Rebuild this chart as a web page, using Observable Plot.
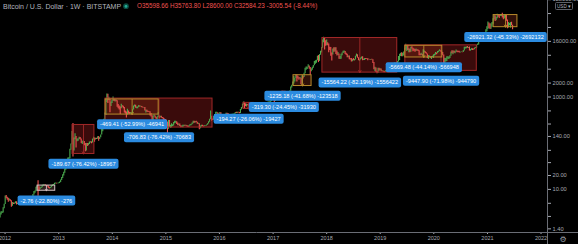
<!DOCTYPE html>
<html><head><meta charset="utf-8">
<script src="https://cdn.jsdelivr.net/npm/d3@7"></script>
<script src="https://cdn.jsdelivr.net/npm/@observablehq/plot@0.6"></script>
<style>
html,body{margin:0;padding:0;background:#000;}
#chart{position:relative;width:578px;height:244px;overflow:hidden;background:#000;}
</style></head><body><div id="chart"></div><script>
// ---------- DATA (weekly candles: [close, high, low]) ----------
const firstOpen = 2.6;
const firstMondays = ["2011-11-28","2012-01-02","2013-01-07","2014-01-06","2015-01-05","2016-01-04","2017-01-02","2018-01-01","2019-01-07","2020-01-06","2021-01-04"];
const w2011 = [[2.9,3.1,2.4],[3.1,3.3,2.8],[3.2,3.3,3.0],[3.9,4.0,3.1],[4.7,4.8,3.8]];
const w2012 = [[6.8,7.2,4.9],[6.6,7.4,6.3],[6.3,6.8,5.8],[5.6,6.4,5.3],[5.9,6.2,5.6],[5.7,6.0,5.4],[4.5,5.7,4.1],[5.0,5.2,4.3],[4.9,5.1,4.7],[5.0,5.1,4.8],[5.3,5.4,4.9],[4.7,5.4,4.6],[4.9,5.0,4.7],[4.9,5.0,4.8],[4.9,5.0,4.8],[5.1,5.2,4.9],[5.1,5.2,5.0],[5.0,5.2,4.9],[5.0,5.1,4.9],[5.1,5.2,5.0],[5.1,5.2,5.0],[5.2,5.3,5.1],[5.5,5.6,5.2],[5.9,6.0,5.5],[6.4,6.6,5.9],[6.7,6.8,6.3],[6.8,7.0,6.5],[7.6,7.8,6.8],[8.7,9.0,7.6],[8.9,9.2,8.3],[10.9,11.1,8.9],[11.5,11.8,10.6],[11.4,15.4,7.1],[10.2,10.9,9.2],[10.5,10.9,10.0],[11.0,11.2,10.4],[11.8,12.0,10.9],[12.3,12.6,11.7],[12.4,12.5,12.0],[12.0,12.6,11.9],[11.9,12.1,11.6],[11.7,12.0,11.3],[10.9,11.8,10.5],[10.6,11.0,10.2],[10.9,11.0,10.5],[11.6,11.8,10.8],[12.3,12.4,11.5],[12.5,12.8,12.1],[13.4,13.6,12.5],[13.5,13.7,13.1],[13.3,13.6,13.1],[13.4,13.6,13.2],[13.5,13.7,13.2]];
const w2013 = [[14.2,14.5,13.4],[15.7,16,14.1],[17.5,18,15.6],[20.4,20.8,17.3],[22.6,23.5,19.5],[26.9,27.5,22.4],[29.9,31,26],[34,34.5,29],[46.9,48,34],[47,48.4,36],[71.5,74,46],[93,95.7,70],[165,180,93],[93,266,50],[119,130,68],[128,160,119],[112,139,79],[115,123,107],[123,124,110],[130,134,121],[123,133,117],[101,123,99],[102,110,94],[108,112,99],[98,109,88],[76,98,65],[95,98,68],[89,99,85],[96,98,88],[104,106,94],[104,108,101],[102,107,97],[120,123,101],[128,135,117],[118,130,105],[126,128,118],[123,128,121],[133,138,122],[125,140,110],[132,133,120],[150,150,132],[180,210,150],[211,212,178],[318,330,210],[440,450,310],[760,900,400],[1100,1163,780],[860,1150,720],[880,990,840],[630,890,455],[730,780,620],[830,840,720]];
const w2014 = [[880,1000,810],[820,890,800],[850,870,780],[810,860,790],[650,830,600],[630,690,560],[580,640,520],[565,610,420],[640,700,560],[625,650,600],[570,630,560],[470,590,450],[450,500,430],[430,475,350],[490,540,410],[440,500,425],[435,465,420],[440,455,425],[445,450,430],[525,530,440],[630,635,520],[650,670,610],[595,660,570],[595,610,560],[600,605,560],[630,655,590],[620,635,610],[620,630,610],[595,625,585],[585,600,575],[585,595,575],[510,590,495],[510,525,450],[480,515,470],[478,490,460],[475,485,465],[405,480,390],[375,440,370],[325,395,275],[380,390,290],[390,410,370],[350,390,345],[325,360,320],[370,375,320],[375,460,360],[365,390,340],[375,385,355],[350,385,345],[345,360,340],[330,350,305],[320,335,310],[315,325,310]];
const w2015 = [[270,300,260],[210,285,152],[255,310,200],[225,310,220],[225,245,210],[235,265,215],[245,250,230],[275,280,235],[280,300,265],[285,298,270],[260,290,255],[250,275,240],[255,260,240],[235,260,230],[222,240,215],[230,237,218],[240,245,215],[240,245,230],[235,245,232],[240,245,233],[230,242,225],[225,232,220],[240,242,222],[248,255,235],[250,257,240],[270,275,250],[295,300,265],[275,300,270],[290,295,275],[282,298,278],[262,285,258],[262,270,255],[230,265,195],[230,235,205],[240,245,225],[232,245,228],[230,235,225],[235,238,228],[240,242,235],[245,248,235],[262,264,245],[285,290,260],[325,330,285],[385,500,320],[330,340,300],[325,335,310],[375,380,315],[390,420,350],[435,470,385],[440,465,430],[425,455,410],[430,435,415]];
const w2016 = [[450,462,425],[385,455,360],[400,420,375],[375,400,365],[375,395,365],[400,405,370],[440,445,400],[435,445,405],[410,440,405],[415,420,405],[410,420,405],[415,420,405],[420,425,410],[420,425,415],[430,432,418],[460,462,428],[445,468,440],[460,465,440],[455,465,450],[445,460,435],[530,535,440],[580,590,525],[680,700,570],[760,780,670],[670,770,550],[650,710,620],[665,700,605],[660,680,645],[655,672,640],[625,660,600],[590,630,480],[570,600,565],[580,585,565],[575,585,570],[605,612,570],[610,630,600],[605,612,600],[600,610,590],[612,615,598],[640,645,608],[640,645,630],[655,660,630],[700,720,650],[710,740,680],[700,740,690],[735,755,695],[735,750,725],[765,775,730],[770,775,755],[790,795,765],[890,900,785],[1000,1000,880]];
const w2017 = [[900,1150,880],[820,910,750],[920,930,800],[915,930,880],[1020,1030,915],[995,1075,940],[1050,1060,990],[1150,1200,1050],[1265,1290,1150],[1230,1325,1000],[960,1260,950],[965,1050,890],[1080,1090,950],[1180,1200,1070],[1180,1210,1150],[1235,1245,1180],[1340,1350,1235],[1600,1650,1340],[1760,1800,1570],[2050,2100,1750],[2150,2790,1900],[2500,2550,2100],[2960,3000,2500],[2600,2980,2100],[2550,2800,2450],[2500,2600,2300],[2510,2650,2450],[1930,2550,1840],[2750,2900,1900],[2720,2800,2450],[3250,3280,2650],[4050,4200,3200],[4100,4480,3800],[4350,4400,3950],[4600,4980,4300],[4200,4700,4000],[3700,4350,2970],[3780,4100,3500],[4370,4400,3850],[4770,4800,4200],[5700,5850,4750],[6000,6100,5100],[6150,6250,5400],[7400,7600,6100],[5950,7900,5550],[8050,8300,5900],[9700,9800,8000],[11500,11800,9000],[15300,17200,11400],[19000,19666,15000],[13900,19300,10400],[13400,16500,12500]];
const w2018 = [[13700,17200,12800],[13600,15000,12900],[11500,14000,9100],[11200,11900,10100],[8200,11800,7600],[8100,9000,6000],[10300,11000,8100],[9600,11700,9300],[11400,11600,9400],[9600,11700,8300],[8200,9900,7700],[8400,9200,7900],[6900,8500,6600],[6900,7500,6500],[8300,8400,6600],[8900,9000,7800],[9350,9750,8700],[9650,9950,9000],[8700,9650,8300],[8250,8900,7950],[7350,8400,7100],[7650,7750,7050],[6500,7750,6400],[6450,6700,6300],[6100,6800,5750],[6380,6450,5800],[6300,6800,6100],[6350,6450,6050],[7400,7600,6300],[8200,8500,7400],[7050,8200,6900],[6300,7100,6100],[6500,6600,5900],[6700,6950,6300],[7250,7300,6650],[6200,7400,6100],[6500,6600,6200],[6700,6800,6150],[6600,6800,6450],[6550,6700,6500],[6400,6700,6100],[6450,6600,6400],[6400,6500,6350],[6400,6450,6250],[6350,6600,6300],[5600,6400,5300],[4000,5600,3900],[4150,4400,3500],[3600,4250,3400],[3250,3600,3200],[3950,4200,3250],[3800,4200,3600],[4000,4100,3700]];
const w2019 = [[3550,4050,3500],[3550,3700,3500],[3520,3650,3450],[3450,3550,3350],[3650,3700,3380],[3650,3700,3550],[3850,4200,3650],[3800,3900,3700],[3900,3950,3700],[3950,4000,3800],[3970,4050,3900],[4100,4150,3900],[5050,5300,4100],[5050,5450,4950],[5300,5400,5000],[5250,5650,5050],[5800,5900,5200],[7000,7500,5700],[8000,8400,6200],[8700,8900,7500],[7650,9100,7450],[8700,8800,7450],[9300,9400,7750],[10800,11300,9000],[11000,13880,10300],[11500,12800,9700],[10300,13200,10100],[10800,11100,9100],[9450,10700,9100],[11800,12000,9300],[11300,12300,11000],[10200,11400,9500],[10150,10900,9800],[9600,10700,9300],[10450,10900,9700],[10300,10500,9900],[10000,10350,9600],[8050,10000,7800],[7900,8500,7800],[8300,8850,7800],[8200,8400,7900],[9200,10500,7350],[9200,9950,9050],[8800,9500,8700],[8500,9100,8400],[7100,8500,6800],[7400,7900,6500],[7450,7750,7200],[7050,7450,6900],[7350,7500,6450],[7350,7650,7100],[7750,8200,6850]];
const w2020 = [[8150,8450,7700],[8900,9200,8050],[8600,8950,8250],[9350,9600,8600],[9900,9950,9150],[9900,10500,9600],[9700,10200,9300],[8550,9950,8400],[8000,9200,7850],[5350,8150,3850],[5800,6900,4450],[5900,6850,5700],[6900,7450,5850],[6900,7450,6600],[7100,7300,6500],[7700,7800,6800],[8850,9450,7650],[8700,10000,8600],[9700,9950,8200],[8900,9900,8800],[9450,9700,8650],[9650,10400,9300],[9350,9950,9100],[9300,9800,9200],[9150,9750,8950],[9250,9350,8950],[9300,9450,9150],[9200,9300,9050],[9900,10100,9150],[11250,12000,9900],[11800,11900,11000],[11800,12050,11100],[11650,12450,11300],[11700,11800,11150],[10250,12050,9900],[10300,10600,9850],[11050,11150,10250],[10750,10800,10150],[10650,10950,10350],[11350,11500,10550],[11500,11750,11200],[13100,13200,11400],[13750,14000,12950],[15500,15950,13300],[15950,16500,15150],[18400,18800,15800],[18200,19400,16300],[19100,19900,17600],[19100,19400,17650],[23800,24200,19000],[26300,28400,22400],[32800,33300,26000]];
const w2021 = [[38200,42000,29000],[36000,40100,30300],[32300,37800,28900],[34300,38500,29300],[39200,40900,32300],[47100,49700,37400],[57500,58300,46500],[46200,57500,43000],[51200,52600,44900],[59000,61800,49300],[57500,60900,53300],[55900,58500,50300],[57700,60000,55000],[59800,61200,55500],[56100,64800,51500],[49000,57400,47000],[56600,58400,48800],[58200,59500,52900],[46500,59600,43800],[34800,46600,30000],[35700,40900,31200],[35800,39300,34800],[39100,40800,31000],[35589.77,41300,34800],[32584.23,35763.80,28600.00]];
const weekly = [w2011,w2012,w2013,w2014,w2015,w2016,w2017,w2018,w2019,w2020,w2021];

// header values of the last weekly candle
const lastOpen = 35598.66, lastHigh = 35763.80, lastLow = 28600.00, lastClose = 32584.23;
const lastChange = -3005.54, lastChangePct = -8.44;

// drawdown price-range drawings
const ddStart  = ["2012-08-10","2013-04-05","2013-11-16","2013-11-16","2016-06-13","2017-03-03","2017-05-20","2017-12-03","2019-06-21","2019-06-21","2021-02-12"];
const ddEnd    = ["2012-12-08","2013-09-01","2015-11-15","2014-11-13","2016-08-22","2017-03-27","2017-09-20","2019-04-27","2020-02-28","2020-10-20","2021-07-24"];
const ddTop    = [12.1, 248.2, 924.9, 885.8, 745.5, 1306, 2963.5, 18937, 12844, 13126, 59389];
const ddBottom = [9.35, 58.5, 218.1, 416.4, 551.2, 986.6, 1728.3, 3372.8, 7174.5, 3678, 32468];
const ddTone   = ["white","red","red","yellow","red","red","yellow","red","yellow","red","yellow"];
const ddLabel  = ["-2.76 (-22.80%) -276","-189.67 (-76.42%) -18967","-706.83 (-76.42%) -70683","-469.41 (-52.99%) -46941","-194.27 (-26.06%) -19427","-319.30 (-24.45%) -31930","-1235.18 (-41.68%) -123518","-15564.22 (-82.19%) -1556422","-5669.48 (-44.14%) -566948","-9447.90 (-71.98%) -944790","-26921.32 (-45.33%) -2692132"];

// axes
const yTicks = [1.4,2.6,5,10,20,38,70,140,260,500,1000,2000,4000,8000,16000,32000,64000,128000];
const yTickLabels = ["1.40","2.60","5.00","10.00","20.00","38.00","70.00","140.00","260.00","500.00","1000.00","2000.00","4000.00","8000.00","16000.00","32000.00","64000.00","128000.00"];
const xTickYears = ["2012","2013","2014","2015","2016","2017","2018","2019","2020","2021","2022"];

// ---------- BUILD ----------
const FONT = "'Liberation Sans', Arial, sans-serif";
const GREEN = "#4caf50", RED = "#ef5350";
const parse = d3.utcParse("%Y-%m-%d");
const candles = [];
let prev = firstOpen;
weekly.forEach((arr, yi) => {
  const t0 = parse(firstMondays[yi]);
  arr.forEach(([c, h, l], i) => {
    const o = prev;
    candles.push({date: d3.utcDay.offset(t0, 7 * i), open: o, close: c, high: Math.max(h, o, c), low: Math.min(l, o, c)});
    prev = c;
  });
});
const up = candles.filter(d => d.close >= d.open);
const down = candles.filter(d => d.close < d.open);

const dd = ddStart.map((s, i) => {
  const start = parse(s), end = parse(ddEnd[i]);
  return {start, end, mid: new Date((+start + +end) / 2), top: ddTop[i], bottom: ddBottom[i], tone: ddTone[i], label: ddLabel[i]};
});
const toneFill = {red: "#8b1a1a", yellow: "#7e2a16", white: "#a06868"};
const toneOpacity = {red: 0.42, yellow: 0.38, white: 0.3};
const toneStroke = {red: "#a22828", yellow: "#b88a2c", white: "#d2c0c0"};
const tones = ["red", "yellow", "white"];

const yLabelMap = new Map(yTicks.map((v, i) => [v, yTickLabels[i]]));
const xTickDates = xTickYears.map(y => parse(y + "-01-01"));

const marks = [];
for (const t of tones) {
  marks.push(Plot.rect(dd.filter(d => d.tone === t), {x1: "start", x2: "end", y1: "bottom", y2: "top", fill: toneFill[t], fillOpacity: toneOpacity[t]}));
}
marks.push(Plot.ruleX(up, {x: "date", y1: "low", y2: "high", stroke: GREEN, strokeWidth: 1.1, clip: true}));
marks.push(Plot.ruleX(down, {x: "date", y1: "low", y2: "high", stroke: RED, strokeWidth: 1.1, clip: true}));
for (const t of tones) {
  const sub = dd.filter(d => d.tone === t);
  marks.push(Plot.rect(sub, {x1: "start", x2: "end", y1: "bottom", y2: "top", fill: "none", stroke: toneStroke[t], strokeWidth: 1}));
  marks.push(Plot.arrow(sub, {x1: "mid", x2: "mid", y1: "top", y2: "bottom", stroke: toneStroke[t], strokeWidth: 0.9, headLength: 4}));
}
marks.push(Plot.axisY({anchor: "right", ticks: yTicks, tickFormat: d => yLabelMap.get(d), tickSize: 3, tickPadding: 2, fontSize: 5.7}));
marks.push(Plot.axisX({anchor: "bottom", ticks: xTickDates, tickFormat: d3.utcFormat("%Y"), tickSize: 2, tickPadding: 1.5, fontSize: 5.5}));
marks.push(Plot.text(dd, {x: "mid", y: "bottom", dy: 10, text: "label", fill: "#ffffff", fontSize: 5.6}));

const chart = Plot.plot({
  width: 578, height: 244,
  marginLeft: 0, marginRight: 31, marginTop: 0, marginBottom: 12,
  x: {type: "utc", domain: [parse("2011-12-01"), parse("2022-02-14")], range: [0, 547]},
  y: {type: "log", domain: [1.167, 122700], range: [232, 0]},
  style: {background: "#000", color: "#a6a9b2", fontFamily: FONT, fontSize: "5.7px"},
  marks
});
document.getElementById("chart").appendChild(chart);

// label backgrounds
const svg = d3.select(chart);
svg.selectAll('g[aria-label="text"] text').each(function () {
  const bb = this.getBBox();
  const h = 10, padX = 3;
  d3.select(this.parentNode).insert("rect", () => this)
    .attr("transform", this.getAttribute("transform"))
    .attr("x", bb.x - padX).attr("y", bb.y + bb.height / 2 - h / 2)
    .attr("width", bb.width + 2 * padX).attr("height", h)
    .attr("rx", 2).attr("fill", "#2b8be0");
});

// axis lines (price scale border and time scale border)
const sx = chart.scale("x"), sy = chart.scale("y");
const xr = sx.range[1], yb = sy.range[0];
svg.append("line").attr("x1", xr + 0.5).attr("x2", xr + 0.5).attr("y1", 0).attr("y2", 244).attr("stroke", "#6a6d75");
svg.append("line").attr("x1", 0).attr("x2", 578).attr("y1", yb + 0.5).attr("y2", yb + 0.5).attr("stroke", "#6a6d75");

// header
const hdr = svg.append("g").attr("font-family", FONT).attr("text-anchor", "start");
hdr.append("text").attr("x", 3).attr("y", 8.5).attr("font-size", 7).attr("fill", "#b2b5be").text("Bitcoin / U.S. Dollar · 1W · BITSTAMP");
hdr.append("circle").attr("cx", 126).attr("cy", 6.2).attr("r", 2.2).attr("fill", "#22ab94").attr("stroke", "#0d4a40").attr("stroke-width", 1.4);
const f2 = v => v.toFixed(2);
hdr.append("text").attr("x", 137).attr("y", 8.3).attr("font-size", 6.3).attr("fill", "#ef5350")
  .text(`O${f2(lastOpen)} H${f2(lastHigh)} L${f2(lastLow)} C${f2(lastClose)} ${f2(lastChange)} (${f2(lastChangePct)}%)`);

// currency box and settings icon
svg.append("rect").attr("x", 555.5).attr("y", 2.5).attr("width", 17).attr("height", 7).attr("rx", 1).attr("fill", "#000").attr("stroke", "#5d6068");
svg.append("text").attr("x", 564).attr("y", 7.9).attr("text-anchor", "middle").attr("font-family", FONT).attr("font-size", 4.6).attr("fill", "#b2b5be").text("USD ▾");
svg.append("text").attr("x", 563).attr("y", 241.5).attr("text-anchor", "middle").attr("font-family", "'DejaVu Sans'").attr("font-size", 8).attr("fill", "#9a9da5").text("⚙");
</script></body></html>
